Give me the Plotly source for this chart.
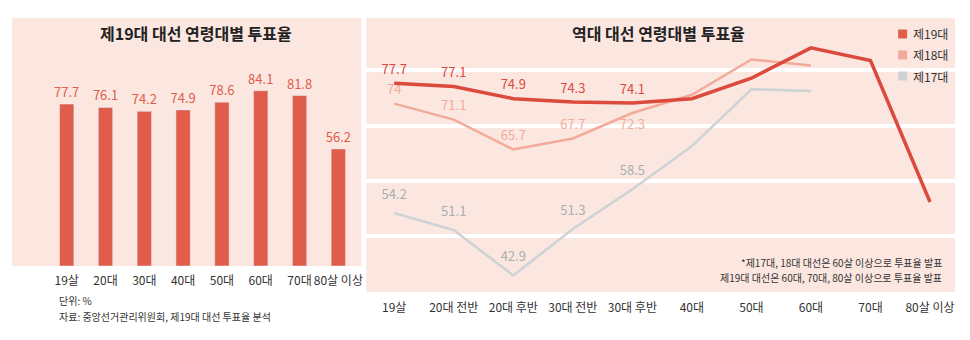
import plotly.graph_objects as go

# ---- data ----
bar_cats = ["19살", "20대", "30대", "40대", "50대", "60대", "70대", "80살 이상"]
bar_vals = [77.7, 76.1, 74.2, 74.9, 78.6, 84.1, 81.8, 56.2]

line_cats = ["19살", "20대 전반", "20대 후반", "30대 전반", "30대 후반",
             "40대", "50대", "60대", "70대", "80살 이상"]
e19 = [77.7, 77.1, 74.9, 74.3, 74.1, 74.9, 78.6, 84.1, 81.8, 56.2]
e18 = [74.0, 71.1, 65.7, 67.7, 72.3, 75.6, 82.0, 80.9, None, None]
e17 = [54.2, 51.1, 42.9, 51.3, 58.5, 66.3, 76.6, 76.3, None, None]
e19_labels = ["77.7", "77.1", "74.9", "74.3", "74.1", "", "", "", "", ""]
e18_labels = ["74", "71.1", "65.7", "67.7", "72.3", "", "", "", "", ""]
e17_labels = ["54.2", "51.1", "42.9", "51.3", "58.5", "", "", "", "", ""]
series_names = ["제19대", "제18대", "제17대"]

BG = "#fbe7e0"
RED = "#e05c4b"
RED_LINE = "#dc4a3d"
PINK = "#f2ab9b"
GRAY = "#cdd2d5"
GRAY_TXT = "#a9aeb2"
FONT = "Noto Sans CJK KR"
CLEAR = "rgba(0,0,0,0)"

fig = go.Figure()

# left bar chart
fig.add_trace(go.Bar(
    x=bar_cats, y=bar_vals, marker_color=RED, width=0.37,
    text=[f"{v}" for v in bar_vals], textposition="outside", constraintext="none",
    textfont=dict(color=RED, size=13, family=FONT),
    cliponaxis=False, showlegend=False, xaxis="x", yaxis="y", hoverinfo="skip"))

# right line chart
pos18 = ["top center"] * 4 + ["bottom center"] + ["top center"] * 5
fig.add_trace(go.Scatter(
    x=line_cats, y=e17, mode="lines+markers+text", text=e17_labels, textposition="top center",
    marker=dict(size=16, color=CLEAR),
    line=dict(color=GRAY, width=2.5), textfont=dict(color=GRAY_TXT, size=13, family=FONT),
    showlegend=False, xaxis="x2", yaxis="y2", cliponaxis=False))
fig.add_trace(go.Scatter(
    x=line_cats, y=e18, mode="lines+markers+text", text=e18_labels, textposition=pos18,
    marker=dict(size=9, color=CLEAR),
    line=dict(color=PINK, width=2.5), textfont=dict(color=PINK, size=13, family=FONT),
    showlegend=False, xaxis="x2", yaxis="y2", cliponaxis=False))
fig.add_trace(go.Scatter(
    x=line_cats, y=e19, mode="lines+markers+text", text=e19_labels, textposition="top center",
    marker=dict(size=8, color=CLEAR),
    line=dict(color=RED_LINE, width=3.5), textfont=dict(color=RED_LINE, size=13, family=FONT),
    showlegend=False, xaxis="x2", yaxis="y2", cliponaxis=False))

fig.update_layout(
    width=970, height=340,
    margin=dict(l=0, r=0, t=0, b=0),
    paper_bgcolor="white", plot_bgcolor=BG,
    font=dict(family=FONT, color="#333333", size=12),
    showlegend=False,
    xaxis=dict(domain=[12/970, 362/970], range=[-1.41, 7.59], showgrid=False, anchor="y",
               zeroline=False, showline=False, ticks="", tickangle=0, ticklabelstandoff=6,
               tickfont=dict(size=12, color="#333")),
    yaxis=dict(domain=[1-266/340, 1-18/340], range=[0, 119], showgrid=False, anchor="x",
               zeroline=False, showticklabels=False),
    xaxis2=dict(domain=[367/970, 957/970], range=[-0.47, 9.42], showgrid=False, anchor="y2",
                zeroline=False, showline=False, ticks="", tickangle=0, ticklabelstandoff=7,
                tickfont=dict(size=12, color="#333")),
    yaxis2=dict(domain=[1-292/340, 1-18/340], range=[39.9, 89.5], anchor="x2",
                showgrid=True, gridcolor="white", gridwidth=4, tickvals=[50, 60, 70, 80],
                zeroline=False, showticklabels=False),
)

# legend (swatches + labels)
leg_y = [34, 55, 76]
for name, col, yy in zip(series_names, [RED, PINK, GRAY], leg_y):
    fig.add_shape(type="rect", xref="paper", yref="paper",
                  x0=900/970, x1=909/970, y0=1-(yy+4.5)/340, y1=1-(yy-4.5)/340,
                  fillcolor=col, line=dict(width=0))
    fig.add_annotation(text=name, xref="paper", yref="paper", x=913/970, y=1-yy/340,
                       xanchor="left", yanchor="middle", showarrow=False,
                       font=dict(size=12, color="#333"))

anns = [
    dict(text="<b>제19대 대선 연령대별 투표율</b>", x=196/970, y=1-33/340, font=dict(size=16, color="#222")),
    dict(text="<b>역대 대선 연령대별 투표율</b>", x=660/970, y=1-33/340, font=dict(size=16, color="#222")),
]
for a in anns:
    a.update(xref="paper", yref="paper", showarrow=False, xanchor="center", yanchor="middle")
    fig.add_annotation(**a)

notes_left = [("단위: %", 300), ("자료: 중앙선거관리위원회, 제19대 대선 투표율 분석", 316)]
for t, yy in notes_left:
    fig.add_annotation(text=t, xref="paper", yref="paper", x=57/970, y=1-yy/340,
                       xanchor="left", yanchor="middle", showarrow=False,
                       font=dict(size=10, color="#333"))
notes_right = [("*제17대, 18대 대선은 60살 이상으로 투표율 발표", 262),
               ("제19대 대선은 60대, 70대, 80살 이상으로 투표율 발표", 277)]
for t, yy in notes_right:
    fig.add_annotation(text=t, xref="paper", yref="paper", x=946/970, y=1-yy/340,
                       xanchor="right", yanchor="middle", showarrow=False,
                       font=dict(size=10, color="#333"))

fig.write_html("out.html")
